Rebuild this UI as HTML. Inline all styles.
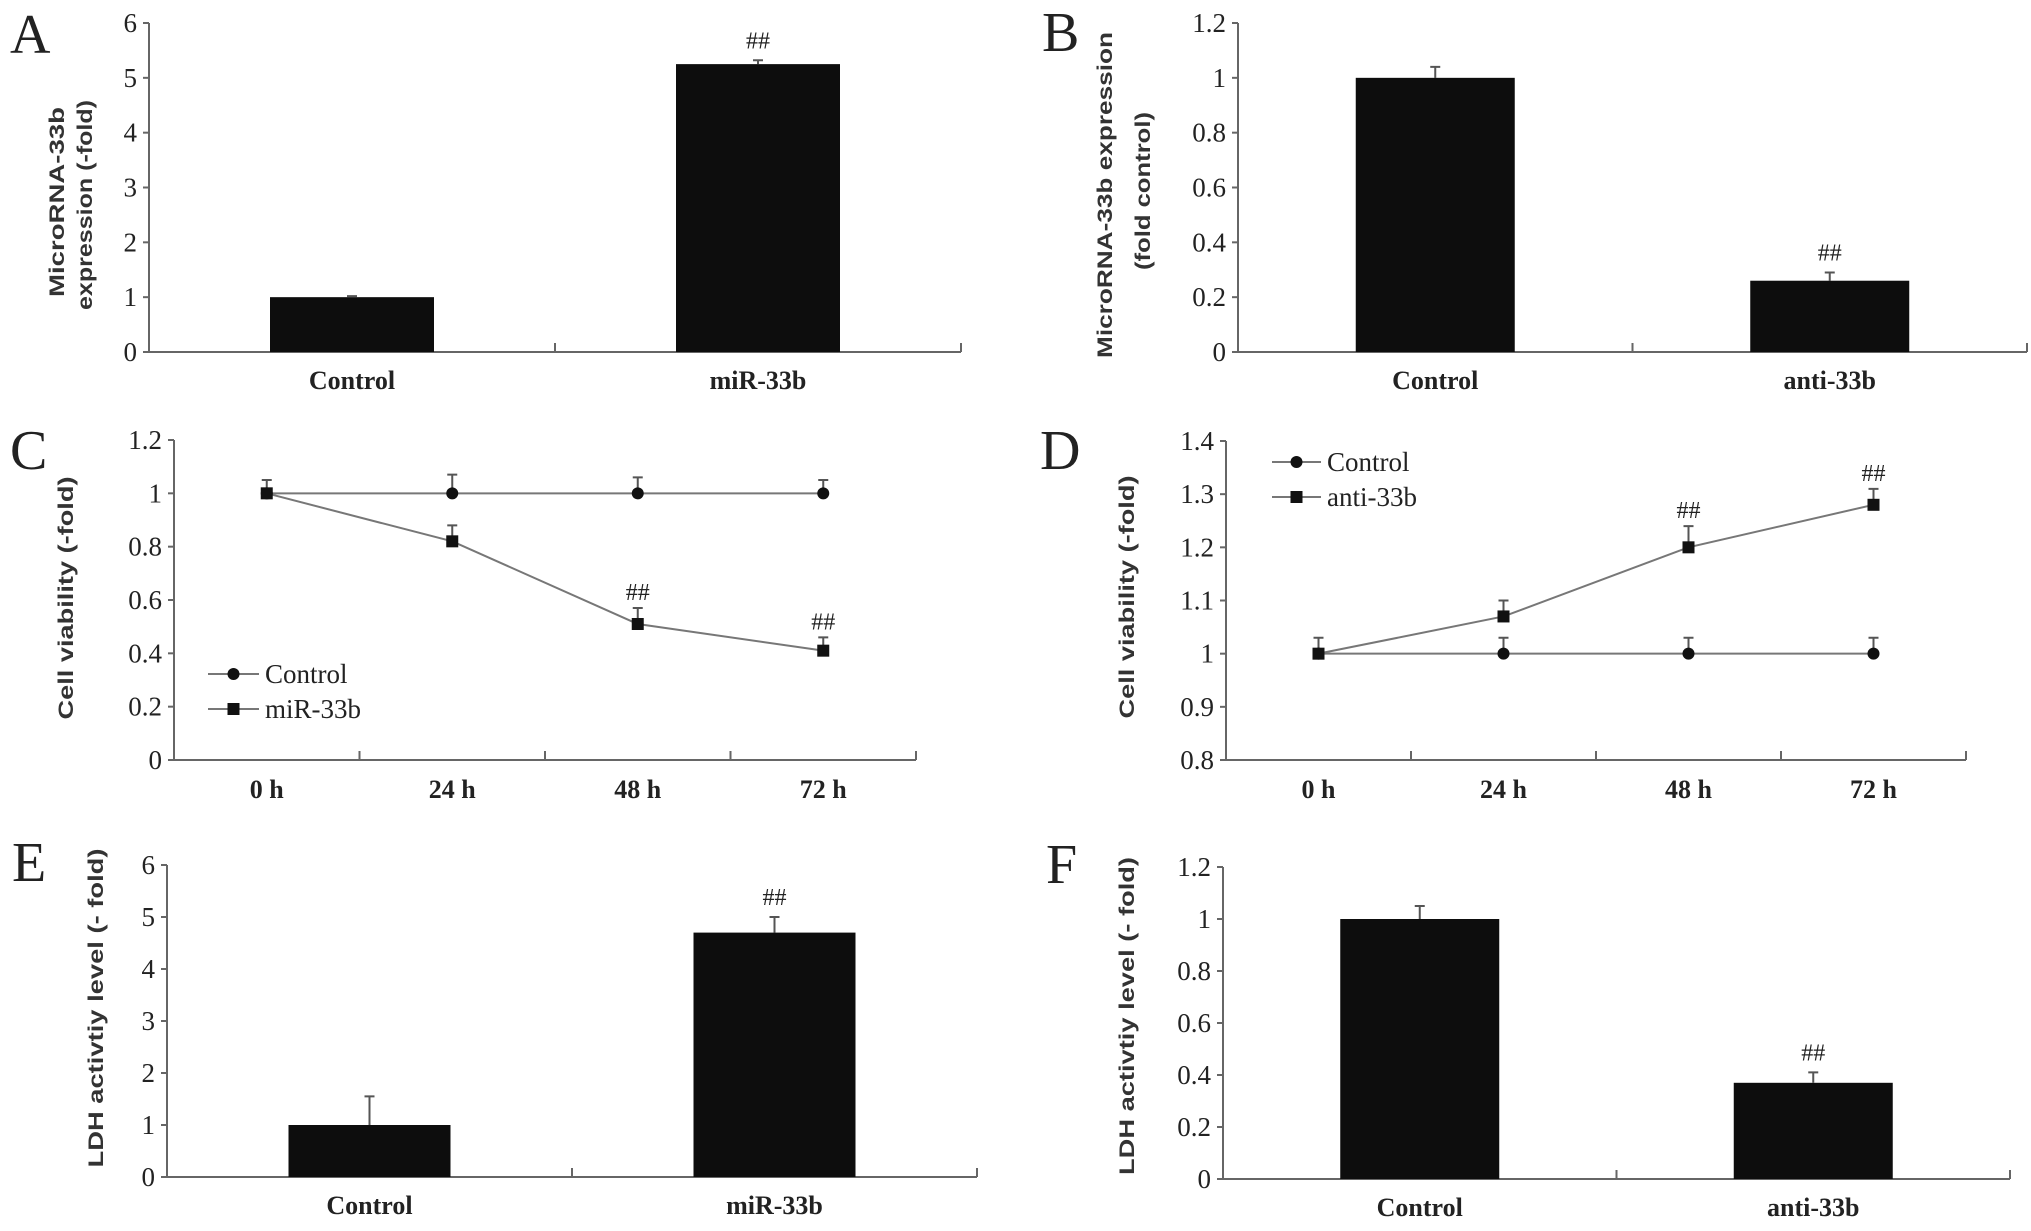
<!DOCTYPE html>
<html><head><meta charset="utf-8"><style>
html,body{margin:0;padding:0;background:#fff;overflow:hidden}
svg{display:block}
text{font-family:"Liberation Serif",serif;fill:#222}
.tick{font-size:27px}
.xl{font-size:26px;font-weight:bold}
.yl{font-family:"Liberation Sans",sans-serif;font-size:21px;font-weight:bold;fill:#333}
.letter{font-size:56px;fill:#222}
.sig{font-size:24px}
.leg{font-size:27px}
</style></head><body>
<svg id="fig" width="2031" height="1231" viewBox="0 0 2031 1231" xmlns="http://www.w3.org/2000/svg"></svg>
<script>
// Panel A
const aCats = ["Control","miR-33b"];
const aVals = [1.0, 5.25];
const aErrs = [0.02, 0.07];
const aSig = ["", "##"];
const aTicks = ["0","1","2","3","4","5","6"];
// Panel B
const bCats = ["Control","anti-33b"];
const bVals = [1.0, 0.26];
const bErrs = [0.04, 0.03];
const bSig = ["", "##"];
const bTicks = ["0","0.2","0.4","0.6","0.8","1","1.2"];
// Panel C
const cCats = ["0 h","24 h","48 h","72 h"];
const cCtrl = [1, 1, 1, 1];
const cCtrlErr = [0.05, 0.07, 0.06, 0.05];
const cTreat = [1, 0.82, 0.51, 0.41];
const cTreatErr = [0.0, 0.06, 0.06, 0.05];
const cSig = ["", "", "##", "##"];
const cTicks = ["0","0.2","0.4","0.6","0.8","1","1.2"];
// Panel D
const dCats = ["0 h","24 h","48 h","72 h"];
const dCtrl = [1, 1, 1, 1];
const dCtrlErr = [0.03, 0.03, 0.03, 0.03];
const dTreat = [1, 1.07, 1.2, 1.28];
const dTreatErr = [0.0, 0.03, 0.04, 0.03];
const dSig = ["", "", "##", "##"];
const dTicks = ["0.8","0.9","1","1.1","1.2","1.3","1.4"];
// Panel E
const eCats = ["Control","miR-33b"];
const eVals = [1.0, 4.7];
const eErrs = [0.55, 0.3];
const eSig = ["", "##"];
const eTicks = ["0","1","2","3","4","5","6"];
// Panel F
const fCats = ["Control","anti-33b"];
const fVals = [1.0, 0.37];
const fErrs = [0.05, 0.04];
const fSig = ["", "##"];
const fTicks = ["0","0.2","0.4","0.6","0.8","1","1.2"];

const NS = "http://www.w3.org/2000/svg";
const svg = document.getElementById('fig');
function mk(tag, attrs, parent, txt){
  const e = document.createElementNS(NS, tag);
  for (const k in attrs) e.setAttribute(k, attrs[k]);
  if (txt !== undefined) e.textContent = txt;
  (parent || svg).appendChild(e);
  return e;
}
function scaleY(p){ const lo=parseFloat(p.ticks[0]), hi=parseFloat(p.ticks[p.ticks.length-1]); return v => p.y0 - (v-lo)/(hi-lo)*(p.y0-p.yTop); }

function axes(p, g){
  const y = scaleY(p);
  const ax = mk('path',{d:`M${p.x0} ${p.yTop} V${p.y0} H${p.xEnd}`,stroke:'#666','stroke-width':2,fill:'none'},g);
  
  
  p.ticks.forEach(t=>{
    const yy = y(parseFloat(t));
    const tm = mk('line',{x1:p.x0-6,x2:p.x0,y1:yy,y2:yy,stroke:'#666','stroke-width':2},g);
    
    
    const tl = mk('text',{x:p.x0-12,y:yy+9,'text-anchor':'end',class:'tick'},g,t);
    
    
  });
  p.ylab.forEach(l=>{
    const t = mk('text',{class:'yl','text-anchor':'middle',transform:`translate(${l.x},${l.c}) rotate(-90)`,textLength:l.len,lengthAdjust:'spacingAndGlyphs'},g,l.s);
    
    
  });
  const L = mk('text',{x:p.lx,y:p.ly,class:'letter'},g,p.letter);
  
  
  return y;
}
function errBar(g,x,yTop,yBase){
  const e = mk('path',{d:`M${x} ${yBase} V${yTop} M${x-5} ${yTop} H${x+5}`,stroke:'#555','stroke-width':2,fill:'none'},g);
  
  
}
function barPanel(p, cats, vals, errs, sig){
  const g = mk('g',{});
  
  
  const y = axes(p,g);
  const n = cats.length, w = (p.xEnd-p.x0)/n;
  for(let i=1;i<=n;i++){
    const xx = p.x0+w*i;
    const t = mk('line',{x1:xx,x2:xx,y1:p.y0,y2:p.y0-9,stroke:'#666','stroke-width':2},g);
    
    
  }
  cats.forEach((c,i)=>{
    const cx = p.x0 + w*(i+0.5), bw = p.bw;
    errBar(g,cx,y(vals[i]+errs[i]),y(vals[i]));
    const r = mk('rect',{x:cx-bw/2,y:y(vals[i]),width:bw,height:p.y0-y(vals[i]),fill:'#0d0d0d'},g);
    
    
    const xl = mk('text',{x:cx,y:p.y0+37,'text-anchor':'middle',class:'xl'},g,c);
    
    
    if(sig[i]){
      const s = mk('text',{x:cx,y:y(vals[i]+errs[i])-12,'text-anchor':'middle',class:'sig'},g,sig[i]);
      
      
    }
  });
}
function square(g,x,y,s){ return mk('rect',{x:x-s/2,y:y-s/2,width:s,height:s,fill:'#111'},g); }
function linePanel(p, cats, ctrl, ctrlErr, trt, trtErr, sig, trtName){
  const g = mk('g',{});
  
  
  const y = axes(p,g);
  const n = cats.length, w = (p.xEnd-p.x0)/n;
  for(let i=1;i<=n;i++){
    const xx = p.x0+w*i;
    const t = mk('line',{x1:xx,x2:xx,y1:p.y0,y2:p.y0-9,stroke:'#666','stroke-width':2},g);
    
    
  }
  const X = i => p.x0 + w*(i+0.5);
  cats.forEach((c,i)=>{
    const xl = mk('text',{x:X(i),y:p.y0+38,'text-anchor':'middle',class:'xl'},g,c);
    
    
  });
  [[ctrl,ctrlErr,'control'],[trt,trtErr,'treatment']].forEach(([v,e,nm])=>{
    v.forEach((val,i)=>{ if(e[i]>0) errBar(g,X(i),y(val+e[i]),y(val)); });
    const ln = mk('polyline',{points:v.map((val,i)=>X(i)+','+y(val)).join(' '),stroke:'#777','stroke-width':2,fill:'none'},g);
    
    
  });
  ctrl.forEach((val,i)=>{
    const m = mk('ellipse',{cx:X(i),cy:y(val),rx:6,ry:6,fill:'#111'},g);
    
    
  });
  trt.forEach((val,i)=>{
    const m = square(g,X(i),y(val),12);
    
    
    if(sig[i]){
      const s = mk('text',{x:X(i),y:y(val+trtErr[i])-8,'text-anchor':'middle',class:'sig'},g,sig[i]);
      
      
    }
  });
  const lg = mk('g',{},g);
  
  
  [['Control',p.leg.y1,'c'],[trtName,p.leg.y2,'t']].forEach(([lab,yy,k])=>{
    const e = mk('g',{},lg);
    
    
    mk('line',{x1:p.leg.x1,x2:p.leg.x2,y1:yy,y2:yy,stroke:'#777','stroke-width':2},e);
    const mx=(p.leg.x1+p.leg.x2)/2;
    if(k==='c') mk('ellipse',{cx:mx,cy:yy,rx:6,ry:6,fill:'#111'},e); else square(e,mx,yy,12);
    mk('text',{x:p.leg.x2+6,y:yy+9,class:'leg'},e,lab);
  });
}

barPanel({letter:'A',lx:10,ly:53,x0:149,xEnd:961,yTop:23,y0:352,bw:164,ticks:aTicks,
  ylab:[{s:'MicroRNA-33b',x:64,c:202,len:190},{s:'expression (-fold)',x:92,c:205,len:210}]},
  aCats,aVals,aErrs,aSig);
barPanel({letter:'B',lx:1042,ly:51,x0:1238,xEnd:2027,yTop:23,y0:352,bw:159,ticks:bTicks,
  ylab:[{s:'MicroRNA-33b expression',x:1112,c:195,len:326},{s:'(fold control)',x:1150,c:191,len:158}]},
  bCats,bVals,bErrs,bSig);
linePanel({letter:'C',lx:10,ly:469,x0:174,xEnd:916,yTop:440,y0:760,ticks:cTicks,
  ylab:[{s:'Cell viability (-fold)',x:73,c:598,len:243}],leg:{x1:208,x2:259,y1:674,y2:709}},
  cCats,cCtrl,cCtrlErr,cTreat,cTreatErr,cSig,'miR-33b');
linePanel({letter:'D',lx:1040,ly:469,x0:1226,xEnd:1966,yTop:441,y0:760,ticks:dTicks,
  ylab:[{s:'Cell viability (-fold)',x:1134,c:597,len:243}],leg:{x1:1272,x2:1321,y1:462,y2:497}},
  dCats,dCtrl,dCtrlErr,dTreat,dTreatErr,dSig,'anti-33b');
barPanel({letter:'E',lx:12,ly:881,x0:167,xEnd:977,yTop:865,y0:1177,bw:162,ticks:eTicks,
  ylab:[{s:'LDH activtiy level (- fold)',x:103,c:1008,len:319}]},
  eCats,eVals,eErrs,eSig);
barPanel({letter:'F',lx:1046,ly:883,x0:1223,xEnd:2010,yTop:867,y0:1179,bw:159,ticks:fTicks,
  ylab:[{s:'LDH activtiy level (- fold)',x:1134,c:1016,len:318}]},
  fCats,fVals,fErrs,fSig);
</script>
</body></html>
